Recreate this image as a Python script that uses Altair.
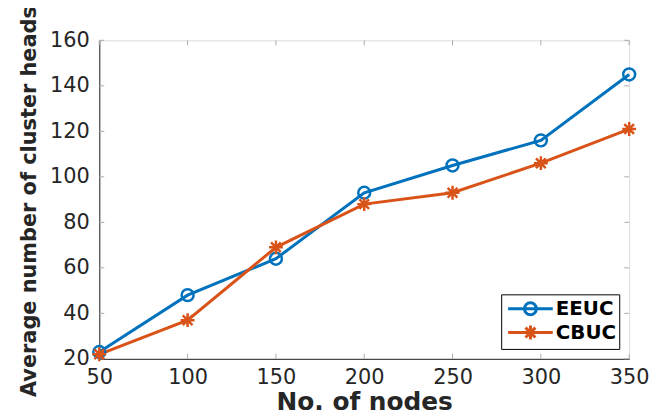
import altair as alt
import pandas as pd

nodes = [50, 100, 150, 200, 250, 300, 350]
eeuc = [23, 48, 64, 93, 105, 116, 145]
cbuc = [22, 37, 69, 88, 93, 106, 121]
series_names = ["EEUC", "CBUC"]
series_colors = ["#0072BD", "#D95319"]
x_ticks = [50, 100, 150, 200, 250, 300, 350]
y_ticks = [20, 40, 60, 80, 100, 120, 140, 160]

W, H = 534, 321
FONT = "DejaVu Sans"
TXT = "#262626"

df = pd.DataFrame({
    "nodes": nodes * 2,
    "value": eeuc + cbuc,
    "series": ["EEUC"] * len(nodes) + ["CBUC"] * len(nodes),
})
xt = pd.DataFrame({"t": x_ticks})
yt = pd.DataFrame({"t": y_ticks})

ASTER = "M-1,0L1,0M0,-1L0,1M-0.7,-0.7L0.7,0.7M-0.7,0.7L0.7,-0.7"
LEG_O = "M-2.25,0L2.25,0M-0.6,0A0.6,0.6,0,1,1,0.6,0A0.6,0.6,0,1,1,-0.6,0"
LEG_A = "M-2.25,0L2.25,0M-0.7,0L0.7,0M0,-0.7L0,0.7M-0.5,-0.5L0.5,0.5M-0.5,0.5L0.5,-0.5"

xscale = alt.Scale(domain=[50, 350], nice=False, zero=False)
yscale = alt.Scale(domain=[20, 160], nice=False, zero=False)
cscale = alt.Scale(domain=series_names, range=series_colors)

X = alt.X("nodes:Q", scale=xscale, axis=alt.Axis(
    values=x_ticks, title="No. of nodes", grid=False, tickSize=0, labelFlush=False,
    labelFont=FONT, labelFontSize=21, labelColor=TXT, labelPadding=8,
    domainColor=TXT, titleFont=FONT, titleFontSize=25, titleFontWeight="bold",
    titleColor=TXT, titleBaseline="alphabetic", titleX=267, titleY=51))
Y = alt.Y("value:Q", scale=yscale, axis=alt.Axis(
    values=y_ticks, title="Average number of cluster heads", grid=False, tickSize=0, labelFlush=False,
    labelFont=FONT, labelFontSize=21, labelColor=TXT, labelPadding=10,
    domainColor=TXT, titleFont=FONT, titleFontSize=21, titleFontWeight="bold",
    titleColor=TXT, titleBaseline="alphabetic", titleX=-64, titleY=162, titleAngle=-90))

base = alt.Chart(df)

leg = alt.Legend(
    title=None, orient="bottom-right", offset=10,
    labelFont=FONT, labelFontSize=20, labelFontWeight="bold", labelColor="#000",
    labelExpr="datum.label + '\u00a0\u00a0'",
    symbolSize=400, symbolStrokeWidth=3, symbolOffset=15, labelOffset=14,
    strokeColor="#000", fillColor="#fff", padding=3, rowPadding=-3)

C = alt.Color("series:N", scale=cscale, legend=None)

lines = base.mark_line(strokeWidth=3).encode(x=X, y=Y, color=C, detail="series:N")
pts_o = base.transform_filter("datum.series == 'EEUC'").mark_point(
    shape="circle", filled=False, size=144, strokeWidth=2.5, opacity=1).encode(x=X, y=Y, color=C)
pts_a = base.transform_filter("datum.series == 'CBUC'").mark_point(
    shape=ASTER, filled=False, size=196, strokeWidth=2.5, opacity=1).encode(x=X, y=Y, color=C)

legend_layer = base.transform_filter("datum.value < 0").mark_point(filled=False, opacity=1).encode(
    x=X, y=Y,
    stroke=alt.Stroke("series:N", scale=cscale, legend=leg),
    shape=alt.Shape("series:N", scale=alt.Scale(domain=series_names, range=[LEG_O, LEG_A]), legend=leg),
)

tc = "#aaaaaa"
tb = alt.Chart(xt).mark_rule(color=tc, strokeWidth=1).encode(
    x=alt.X("t:Q", scale=xscale), y=alt.value(H), y2=alt.value(H - 5))
tt = alt.Chart(xt).mark_rule(color=tc, strokeWidth=1).encode(
    x=alt.X("t:Q", scale=xscale), y=alt.value(0), y2=alt.value(5))
tl = alt.Chart(yt).mark_rule(color=tc, strokeWidth=1).encode(
    y=alt.Y("t:Q", scale=yscale), x=alt.value(0), x2=alt.value(5))
tr = alt.Chart(yt).mark_rule(color=tc, strokeWidth=1).encode(
    y=alt.Y("t:Q", scale=yscale), x=alt.value(W), x2=alt.value(W - 5))

chart = alt.layer(legend_layer, tb, tt, tl, tr, lines, pts_o, pts_a).properties(
    width=W, height=H,
    autosize=alt.AutoSizeParams(type="none"),
    padding={"left": 92, "top": 31, "right": 22, "bottom": 52},
).configure_view(stroke=TXT, strokeWidth=1).configure(background="white")

chart.save("out.html", embed_options={"renderer": "svg", "actions": False})
